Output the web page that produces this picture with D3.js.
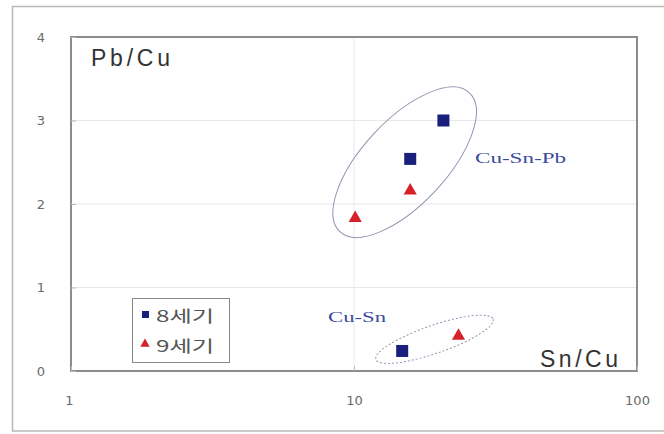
<!DOCTYPE html>
<html>
<head>
<meta charset="utf-8">
<script src="https://cdn.jsdelivr.net/npm/d3@7/dist/d3.min.js"></script>
<style>
  html, body { margin: 0; padding: 0; background: #fff; }
  svg { display: block; }
</style>
</head>
<body>
<svg id="chart" width="664" height="434"></svg>
<script>
// Sn/Cu vs Pb/Cu ratios of bronze samples, grouped by century
const seriesNames = ["8세기", "9세기"];
const snCu8 = [20.7, 15.8, 14.8];
const pbCu8 = [3.0, 2.54, 0.24];
const snCu9 = [10.1, 15.8, 23.4];
const pbCu9 = [1.83, 2.16, 0.42];
const xTicks = [1, 10, 100];
const yTicks = [0, 1, 2, 3, 4];
// Composition groups: ellipse centre (data units), semi-axes (px) and tilt (deg)
const groupNames = ["Cu-Sn-Pb", "Cu-Sn"];
const groupCx = [15.1, 19.25];
const groupCy = [2.5, 0.38];
const groupRx = [95, 62];
const groupRy = [42, 14];
const groupTilt = [-47, -19];

const svg = d3.select("#chart");
const margin = { left: 71, top: 37, right: 27, bottom: 63 };
const W = 664, H = 434;
const x = d3.scaleLog().domain([1, 100]).range([margin.left, W - margin.right]);
const y = d3.scaleLinear().domain([0, 4]).range([H - margin.bottom, margin.top]);

// outer frame
svg.append("rect").attr("x", 12.5).attr("y", 6.5).attr("width", 660).attr("height", 424.5)
  .attr("fill", "none").attr("stroke", "#b8b8b8").attr("stroke-width", 1.5);

// gridlines
const grid = svg.append("g");
grid.selectAll("line.h").data(yTicks.filter(d => d > 0 && d < 4)).join("line")
  .attr("x1", x(1)).attr("x2", x(100)).attr("y1", d => y(d)).attr("y2", d => y(d))
  .attr("stroke", "#e8e8e8").attr("stroke-width", 1);
grid.selectAll("line.v").data([10]).join("line")
  .attr("x1", d => x(d)).attr("x2", d => x(d)).attr("y1", y(0)).attr("y2", y(4))
  .attr("stroke", "#e8e8e8").attr("stroke-width", 1);

// plot frame
svg.append("rect").attr("x", x(1)).attr("y", y(4)).attr("width", x(100) - x(1)).attr("height", y(0) - y(4))
  .attr("fill", "none").attr("stroke", "#8c8c8c").attr("stroke-width", 2);

// axes
const yAxis = d3.axisLeft(y).tickValues(yTicks).tickSize(-5).tickPadding(26).tickFormat(d3.format("d"));
const gy = svg.append("g").attr("transform", `translate(${x(1)},0)`).call(yAxis);
const xAxis = d3.axisBottom(x).tickValues(xTicks).tickSize(-5).tickPadding(25).tickFormat(d3.format("d"));
const gx = svg.append("g").attr("transform", `translate(0,${y(0)})`).call(xAxis);
[gx, gy].forEach(g => {
  g.select(".domain").remove();
  g.selectAll(".tick line").attr("stroke", "#bbb");
  g.selectAll(".tick text").attr("fill", "#6a6a6a").attr("font-family", "DejaVu Sans, sans-serif").attr("font-size", 13);
});
gx.selectAll(".tick text").filter(d => d === 1).attr("dx", -2);

// group ellipses
const gEll = svg.append("g");
groupNames.forEach((name, i) => {
  gEll.append("ellipse")
    .attr("transform", `translate(${x(groupCx[i])},${y(groupCy[i])}) rotate(${groupTilt[i]})`)
    .attr("rx", groupRx[i]).attr("ry", groupRy[i])
    .attr("fill", "none").attr("stroke", "#9097b2").attr("stroke-width", 1)
    .attr("stroke-dasharray", i === 0 ? null : "2,2");
});

// group labels
const labelFont = "Liberation Serif, serif";
svg.append("text").attr("x", 475).attr("y", 163).text(groupNames[0])
  .attr("font-family", labelFont).attr("font-size", 15).attr("fill", "#3b4aa0")
  .attr("textLength", 91).attr("lengthAdjust", "spacingAndGlyphs");
svg.append("text").attr("x", 328).attr("y", 322).text(groupNames[1])
  .attr("font-family", labelFont).attr("font-size", 15).attr("fill", "#3b4aa0")
  .attr("textLength", 58).attr("lengthAdjust", "spacingAndGlyphs");

// axis titles inside the plot
const titleFont = "Liberation Sans, Arial, sans-serif";
svg.append("text").attr("x", 91).attr("y", 66).text("Pb/Cu")
  .attr("font-family", titleFont).attr("font-size", 23).attr("fill", "#333")
  .attr("textLength", 79).attr("lengthAdjust", "spacing");
svg.append("text").attr("x", 540).attr("y", 367).text("Sn/Cu")
  .attr("font-family", titleFont).attr("font-size", 23).attr("fill", "#333")
  .attr("textLength", 78).attr("lengthAdjust", "spacing");

// markers
const sq = 12, tri = d3.symbol().type(d3.symbolTriangle).size(75);
svg.append("g").selectAll("rect").data(d3.zip(snCu8, pbCu8)).join("rect")
  .attr("x", d => x(d[0]) - sq / 2).attr("y", d => y(d[1]) - sq / 2)
  .attr("width", sq).attr("height", sq).attr("fill", "#1a1f7e");
svg.append("g").selectAll("path").data(d3.zip(snCu9, pbCu9)).join("path")
  .attr("transform", d => `translate(${x(d[0])},${y(d[1])})`)
  .attr("d", tri).attr("fill", "#d6202a");

// legend
const lg = svg.append("g").attr("transform", "translate(132,298)");
lg.append("rect").attr("x", 0.5).attr("y", 0.5).attr("width", 97).attr("height", 64)
  .attr("fill", "#fff").attr("stroke", "#888").attr("stroke-width", 1);
lg.append("rect").attr("x", 10).attr("y", 13).attr("width", 7).attr("height", 7).attr("fill", "#1a1f7e");
lg.append("path").attr("transform", "translate(13,46)").attr("d", d3.symbol().type(d3.symbolTriangle).size(38)).attr("fill", "#d6202a");
lg.selectAll("text").data(seriesNames).join("text")
  .attr("x", 24).attr("y", (d, i) => 24 + i * 30).text(d => d)
  .attr("font-family", "Noto Sans CJK KR, sans-serif").attr("font-size", 16).attr("fill", "#555")
  .attr("textLength", 58).attr("lengthAdjust", "spacingAndGlyphs");
</script>
</body>
</html>
